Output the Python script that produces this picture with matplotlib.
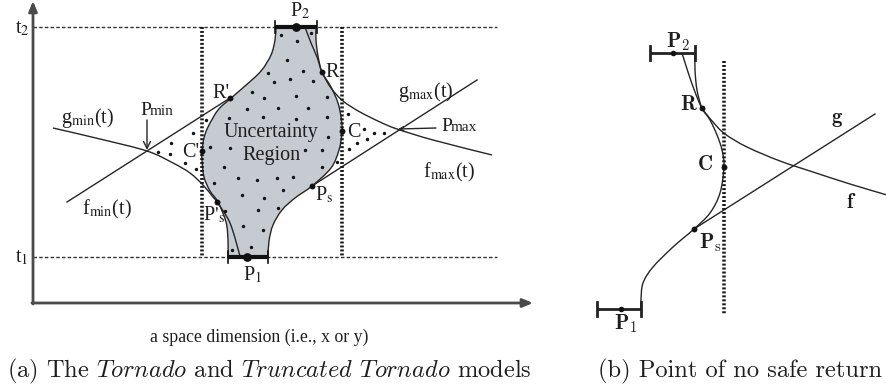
import numpy as np
import matplotlib
matplotlib.use("Agg")
import matplotlib.pyplot as plt
from matplotlib.path import Path
from matplotlib.patches import PathPatch

# ---------------- data (pixel-space control points) ----------------
# Panel (a) uncertainty region outline
region_right_x = [316, 316, 318, 322, 331, 338, 341.5, 342, 339, 331, 312, 295, 282, 273, 269, 268]
region_right_y = [27, 40, 56, 72, 87, 103, 120, 133, 150, 168, 186, 198, 210, 225, 241, 257]
region_left_x = [228, 228, 226, 218, 210, 204, 202, 202, 204, 208, 218, 230, 245, 261, 271, 275, 276]
region_left_y = [257, 240, 222, 202, 191, 177, 160, 151, 138, 127, 110, 99, 86, 71, 55, 40, 27]

fmax_x = [305, 311, 317, 322, 331, 343, 360, 380, 397, 433, 492]
fmax_y = [27, 43, 57, 72, 88, 101, 112, 122, 129, 140, 155]
gmin_x = [53, 100, 147, 173, 190, 203, 213, 217, 230, 240]
gmin_y = [128, 139, 151, 163, 173, 185, 197, 202, 223, 256]
fmin_x = [67, 230]
fmin_y = [202, 98]
gmax_x = [312, 477]
gmax_y = [186, 80]

region_dots_x = [281, 311, 297, 287, 268, 303, 274, 290, 313, 252, 264, 296, 327, 247, 278, 308, 263, 296, 327, 229,
                 328, 210, 230, 305, 322, 224, 322, 238, 257, 277, 293, 214, 283, 242, 264, 225, 258, 278, 243, 263,
                 251, 232]
region_dots_y = [35, 33, 41, 60, 73, 71, 82, 79, 81, 92, 98, 96, 97, 109, 108, 108, 117, 119, 117, 118,
                 137, 147, 148, 150, 150, 167, 167, 178, 180, 178, 177, 183, 190, 195, 198, 211, 210, 208, 226, 230,
                 247, 250]
tri_dots_x = [158, 170, 171, 185, 196, 193, 206, 348, 364, 374, 384, 357, 367, 349, 337]
tri_dots_y = [152, 154, 143, 163, 169, 133, 120, 114, 129, 133, 133, 143, 139, 149, 162]

marked_a_x = [230, 202, 217, 322, 342, 312]   # R', C', P's, R, C, Ps
marked_a_y = [98, 151, 202, 72, 131, 186]

# Panel (b)
traj_x = [641, 641, 643, 653, 673, 694, 710, 720, 724, 722, 717, 710, 702, 697, 695, 695]
traj_y = [310, 300, 283, 267, 247, 229, 213, 193, 167, 150, 135, 120, 108, 90, 70, 53]
f_b_x = [682, 688, 695, 702, 713, 725, 747, 780, 813, 850, 887]
f_b_y = [53, 72, 92, 108, 122, 134, 147, 161, 172, 184, 195]
g_b_x = [694, 875]
g_b_y = [229, 114]
marked_b_x = [702, 724, 694]   # R, C, Ps
marked_b_y = [108, 167, 229]

# ---------------- helpers ----------------
def smooth(xs, ys):
    P = np.column_stack([xs, ys]).astype(float)
    n = len(P)
    verts = [P[0]]
    codes = [Path.MOVETO]
    for i in range(n - 1):
        p0 = P[i - 1] if i > 0 else P[i]
        p1, p2 = P[i], P[i + 1]
        p3 = P[i + 2] if i + 2 < n else P[i + 1]
        verts += [p1 + (p2 - p0) / 6, p2 - (p3 - p1) / 6, p2]
        codes += [Path.CURVE4] * 3
    return verts, codes

LC = "#262626"
fig = plt.figure(figsize=(8.87, 3.87), dpi=100)
ax = fig.add_axes([0, 0, 1, 1])
ax.set_xlim(0, 887)
ax.set_ylim(387, 0)
ax.axis("off")

def curve(xs, ys, lw=1.0, color=LC, z=3):
    v, c = smooth(xs, ys)
    ax.add_patch(PathPatch(Path(v, c), fill=False, lw=lw, edgecolor=color, zorder=z))

# ---------------- panel (a) ----------------
ax.annotate("", xy=(33, 1), xytext=(33, 304),
            arrowprops=dict(arrowstyle="-|>,head_length=0.6,head_width=0.25", lw=2, color="#4a4a4a", shrinkA=0, shrinkB=0))
ax.annotate("", xy=(533, 303), xytext=(32, 303),
            arrowprops=dict(arrowstyle="-|>,head_length=0.6,head_width=0.25", lw=2, color="#4a4a4a", shrinkA=0, shrinkB=0))

ax.plot([33, 497], [27, 27], ls=(0, (2.5, 1.6)), lw=1, color="#333333", zorder=1)
ax.plot([33, 497], [257, 257], ls=(0, (2.5, 1.6)), lw=1, color="#333333", zorder=1)

vr, cr = smooth(region_right_x, region_right_y)
vl, cl = smooth(region_left_x, region_left_y)
cl[0] = Path.LINETO
verts = vr + vl + [vr[0]]
codes = cr + cl + [Path.CLOSEPOLY]
ax.add_patch(PathPatch(Path(verts, codes), facecolor="#c6cad1", edgecolor=LC, lw=1.0, zorder=2))

for xv in (202, 342):
    ax.plot([xv, xv], [27, 257], ls=(0, (0.55, 0.55)), lw=2.6, color="#1a1a1a", zorder=4)

curve(fmax_x, fmax_y)
curve(gmin_x, gmin_y)
ax.plot(fmin_x, fmin_y, color=LC, lw=1.0, zorder=3)
ax.plot(gmax_x, gmax_y, color=LC, lw=1.0, zorder=3)

ax.scatter(region_dots_x, region_dots_y, s=6, color="#111111", zorder=5, linewidths=0)
ax.scatter(tri_dots_x, tri_dots_y, s=6, color="#111111", zorder=5, linewidths=0)
ax.scatter(marked_a_x, marked_a_y, s=18, color="#111111", zorder=6, linewidths=0)

for (x0, x1, y, xd) in [(275, 317, 27, 296), (228, 268, 257, 247)]:
    ax.plot([x0, x1], [y, y], color="#111111", lw=3, solid_capstyle="butt", zorder=6)
    for xe in (x0, x1):
        ax.plot([xe, xe], [y - 6, y + 6], color="#111111", lw=1.2, zorder=6)
    ax.scatter([xd], [y], s=40, color="#111111", zorder=7, linewidths=0)

ax.annotate("", xy=(147, 150), xytext=(147, 120),
            arrowprops=dict(arrowstyle="->,head_length=0.5,head_width=0.25", lw=1, color=LC, shrinkA=0, shrinkB=0))
ax.annotate("", xy=(398, 129), xytext=(436, 128),
            arrowprops=dict(arrowstyle="->,head_length=0.3,head_width=0.15", lw=1, color=LC, shrinkA=0, shrinkB=0))

TF = "Liberation Serif"
TS = 14.5
tc = "#1e1e1e"
def t(x, y, s, size=TS, **kw):
    ax.text(x, y, s, fontsize=size, family=TF, color=tc, va="baseline", math_fontfamily="stix", **kw)

t(15, 33, r"t$_2$")
t(15, 262, r"t$_1$")
t(290, 16, r"P$_2$")
t(243, 280, r"P$_1$")
t(212, 98, "R'")
t(182, 157, "C'")
t(325, 77, "R")
t(347, 137, "C")
t(203, 220, r"P$'_{\rm s}$")
t(315, 200, r"P$_{\rm s}$")
t(271, 137, "Uncertainty", ha="center")
t(272, 160, "Region", ha="center")
t(61, 123, r"g$_{\rm min}$(t)")
t(82, 214, r"f$_{\rm min}$(t)")
t(398, 97, r"g$_{\rm max}$(t)")
t(423, 177, r"f$_{\rm max}$(t)")
t(140, 115, "P", size=14)
t(150, 115, "min", size=11)
t(441, 131, "P", size=14)
t(451, 131, "max", size=11)
t(150, 342, "a space dimension (i.e., x or y)", size=12.8)

# ---------------- panel (b) ----------------
ax.plot([724, 724], [61, 315], ls=(0, (0.55, 0.55)), lw=2.6, color="#1a1a1a", zorder=4)
curve(traj_x, traj_y)
curve(f_b_x, f_b_y)
ax.plot(g_b_x, g_b_y, color=LC, lw=1.0, zorder=3)
ax.scatter(marked_b_x, marked_b_y, s=18, color="#111111", zorder=6, linewidths=0)
for (x0, x1, y, xd) in [(650, 695, 53, 673), (597, 641, 309, 621)]:
    ax.plot([x0, x1], [y, y], color="#222222", lw=2, solid_capstyle="butt", zorder=6)
    for xe in (x0, x1):
        ax.plot([xe, xe], [y - 7, y + 7], color="#222222", lw=2, zorder=6)
    ax.scatter([xd], [y], s=16, color="#111111", zorder=7, linewidths=0)

BF = "cmb10"
def tb(x, y, s, size=15, **kw):
    ax.text(x, y, s, fontsize=size, family=BF, color=tc, va="baseline", math_fontfamily="cm", **kw)

tb(666, 47, r"P$_2$")
tb(614, 329, r"P$_1$")
tb(680, 110, "R")
tb(698, 170, "C")
tb(699, 248, r"P$_{\rm s}$")
tb(832, 123, "g")
tb(847, 208, "f")

# ---------------- captions ----------------
ax.text(7, 377, r"(a) The $Tornado$ and $Truncated$ $Tornado$ models", fontsize=17.6, family="cmr10",
        color=tc, va="baseline", math_fontfamily="cm")
ax.text(598, 377, "(b) Point of no safe return", fontsize=17.6, family="cmr10", color=tc, va="baseline")

fig.savefig("out.png", dpi=100)
